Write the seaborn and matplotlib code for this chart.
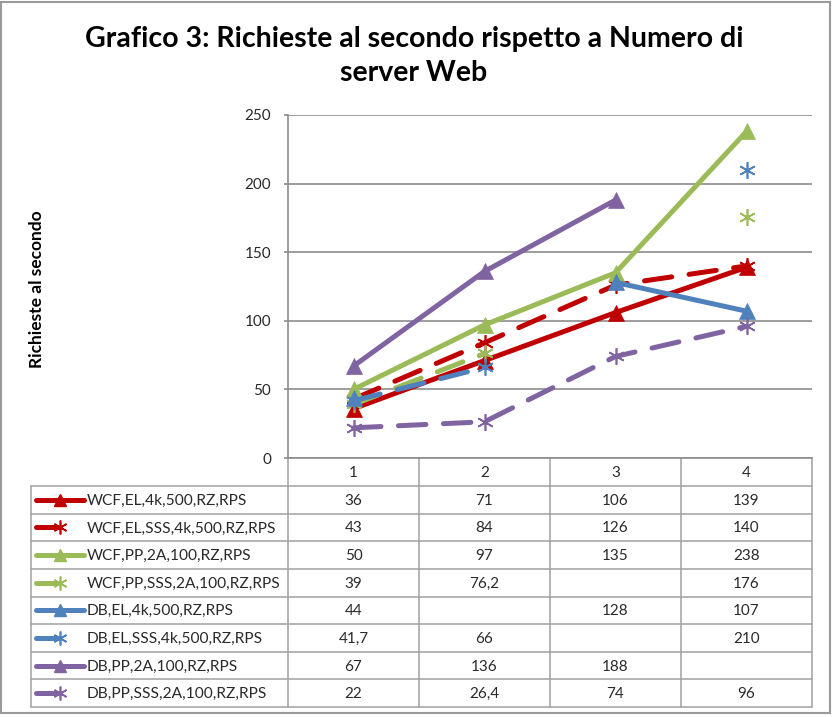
import numpy as np
import pandas as pd
import matplotlib
matplotlib.use("Agg")
import matplotlib.pyplot as plt
from matplotlib.patches import Rectangle
from matplotlib.lines import Line2D
import seaborn as sns

# ---------------- data ----------------
categories = [1, 2, 3, 4]
series_names = [
    "WCF,EL,4k,500,RZ,RPS",
    "WCF,EL,SSS,4k,500,RZ,RPS",
    "WCF,PP,2A,100,RZ,RPS",
    "WCF,PP,SSS,2A,100,RZ,RPS",
    "DB,EL,4k,500,RZ,RPS",
    "DB,EL,SSS,4k,500,RZ,RPS",
    "DB,PP,2A,100,RZ,RPS",
    "DB,PP,SSS,2A,100,RZ,RPS",
]
wcf_el = [36, 71, 106, 139]
wcf_el_sss = [43, 84, 126, 140]
wcf_pp = [50, 97, 135, 238]
wcf_pp_sss = [39, 76.2, np.nan, 176]
db_el = [44, np.nan, 128, 107]
db_el_sss = [41.7, 66, np.nan, 210]
db_pp = [67, 136, 188, np.nan]
db_pp_sss = [22, 26.4, 74, 96]
series_values = [wcf_el, wcf_el_sss, wcf_pp, wcf_pp_sss,
                 db_el, db_el_sss, db_pp, db_pp_sss]
y_ticks = [0, 50, 100, 150, 200, 250]
title = "Grafico 3: Richieste al secondo rispetto a Numero di\nserver Web"
y_label = "Richieste al secondo"

# ---------------- styles ----------------
RED, GREEN, BLUE, PURPLE = "#C00000", "#9BBB59", "#4F81BD", "#8064A2"
colors = [RED, RED, GREEN, GREEN, BLUE, BLUE, PURPLE, PURPLE]
solid = [True, False, True, False, True, False, True, False]
STAR = (6, 2, 0)
GRID = "#8C8C8C"
TAB = "#A0A0A0"
TXT = "#2A2A2A"
FONT = ["Lato", "DejaVu Sans"]

sns.set_theme(style="white")
plt.rcParams["font.family"] = FONT

W, H = 833, 717
fig = plt.figure(figsize=(W / 100, H / 100), dpi=100)
fig.patch.set_facecolor("white")

# overlay axes in pixel coordinates (for the data table + frame)
tab = fig.add_axes([0, 0, 1, 1], zorder=0)
tab.set_xlim(0, W)
tab.set_ylim(H, 0)
tab.axis("off")

# plot area
x0, x1 = 288, 812
ytop, ybot = 115, 458
ax = fig.add_axes([x0 / W, 1 - ybot / H, (x1 - x0) / W, (ybot - ytop) / H], zorder=2)
ax.patch.set_alpha(0)

for name, vals, c, s in zip(series_names, series_values, colors, solid):
    v = np.array(vals, dtype=float)
    # split into contiguous runs so gaps are kept
    runs, cur = [], []
    for xi, yi in zip(categories, v):
        if np.isnan(yi):
            if cur:
                runs.append(cur)
            cur = []
        else:
            cur.append((xi, yi))
    if cur:
        runs.append(cur)
    for run in runs:
        d = pd.DataFrame(run, columns=["x", "y"])
        if s:
            sns.lineplot(data=d, x="x", y="y", ax=ax, color=c, linewidth=3.6,
                         marker="^", markersize=11, markeredgecolor=c,
                         markeredgewidth=0.5, solid_capstyle="round",
                         estimator=None, sort=False, legend=False, zorder=3)
        else:
            sns.lineplot(data=d, x="x", y="y", ax=ax, color=c, linewidth=3.6,
                         linestyle=(0, (5.5, 3.5)), dash_capstyle="round",
                         marker=STAR, markersize=12, markeredgecolor=c,
                         markeredgewidth=1.2,
                         estimator=None, sort=False, legend=False, zorder=3)

ax.set_xlim(0.5, 4.5)
ax.set_ylim(0, 250)
ax.set_yticks(y_ticks)
ax.set_yticklabels([str(t) for t in y_ticks], fontsize=11, color=TXT)
ax.set_xticks([])
ax.set_xlabel("")
ax.set_ylabel("")
ax.tick_params(axis="y", length=3, width=1.2, color=GRID, pad=9, left=True)
ax.yaxis.grid(True, color=GRID, linewidth=1.2)
ax.set_axisbelow(True)
for sp in ["top", "right"]:
    ax.spines[sp].set_visible(False)
for sp in ["left", "bottom"]:
    ax.spines[sp].set_color(GRID)
    ax.spines[sp].set_linewidth(1.2)

# ---------------- data table ----------------
col_edges = [288, 419, 550, 681, 812]
lx0 = 31
head_top, head_bot = 458, 486
row_h = (707 - 486) / 8
row_edges = [head_bot + i * row_h for i in range(9)]
lw_t = 1.1

for xe in col_edges:
    tab.plot([xe, xe], [head_top, row_edges[-1]], color=TAB, lw=lw_t)
tab.plot([lx0, lx0], [head_bot, row_edges[-1]], color=TAB, lw=lw_t)
for ye in row_edges:
    tab.plot([lx0, col_edges[-1]], [ye, ye], color=TAB, lw=lw_t)

for i, c in enumerate(categories):
    cx = (col_edges[i] + col_edges[i + 1]) / 2
    tab.text(cx, (head_top + head_bot) / 2 + 1, str(c), ha="center", va="center",
             fontsize=11, color=TXT)


def fmt(v):
    if np.isnan(v):
        return ""
    if float(v).is_integer():
        return str(int(v))
    return ("%g" % v).replace(".", ",")


for r, (name, vals, c, s) in enumerate(zip(series_names, series_values, colors, solid)):
    cy = (row_edges[r] + row_edges[r + 1]) / 2
    if s:
        tab.add_line(Line2D([36, 84], [cy, cy], color=c, lw=3.6, solid_capstyle="round"))
        tab.add_line(Line2D([60], [cy], color=c, marker="^", markersize=9,
                            markeredgecolor=c, lw=0))
    else:
        tab.add_line(Line2D([36, 58], [cy, cy], color=c, lw=3.6, solid_capstyle="round"))
        tab.add_line(Line2D([60], [cy], color=c, marker=STAR, markersize=10,
                            markeredgecolor=c, markeredgewidth=1.2, lw=0))
    tab.text(87, cy + 1, name, ha="left", va="center", fontsize=11.2, color=TXT)
    for i, v in enumerate(vals):
        cx = (col_edges[i] + col_edges[i + 1]) / 2
        tab.text(cx, cy + 1, fmt(float(v)), ha="center", va="center",
                 fontsize=11, color=TXT)

# title & y label
tab.text(414, 56, title, ha="center", va="center", fontsize=20.5, fontweight="bold",
         color="black", linespacing=1.4)
tab.text(37, 289, y_label, ha="center", va="center", rotation=90, fontsize=12.5,
         fontweight="bold", color="black")

# outer chart frame
tab.add_patch(Rectangle((1.5, 1.5), 829, 711, fill=False, edgecolor="#9A9A9A", lw=1.5))

fig.savefig("out.png", dpi=100)
